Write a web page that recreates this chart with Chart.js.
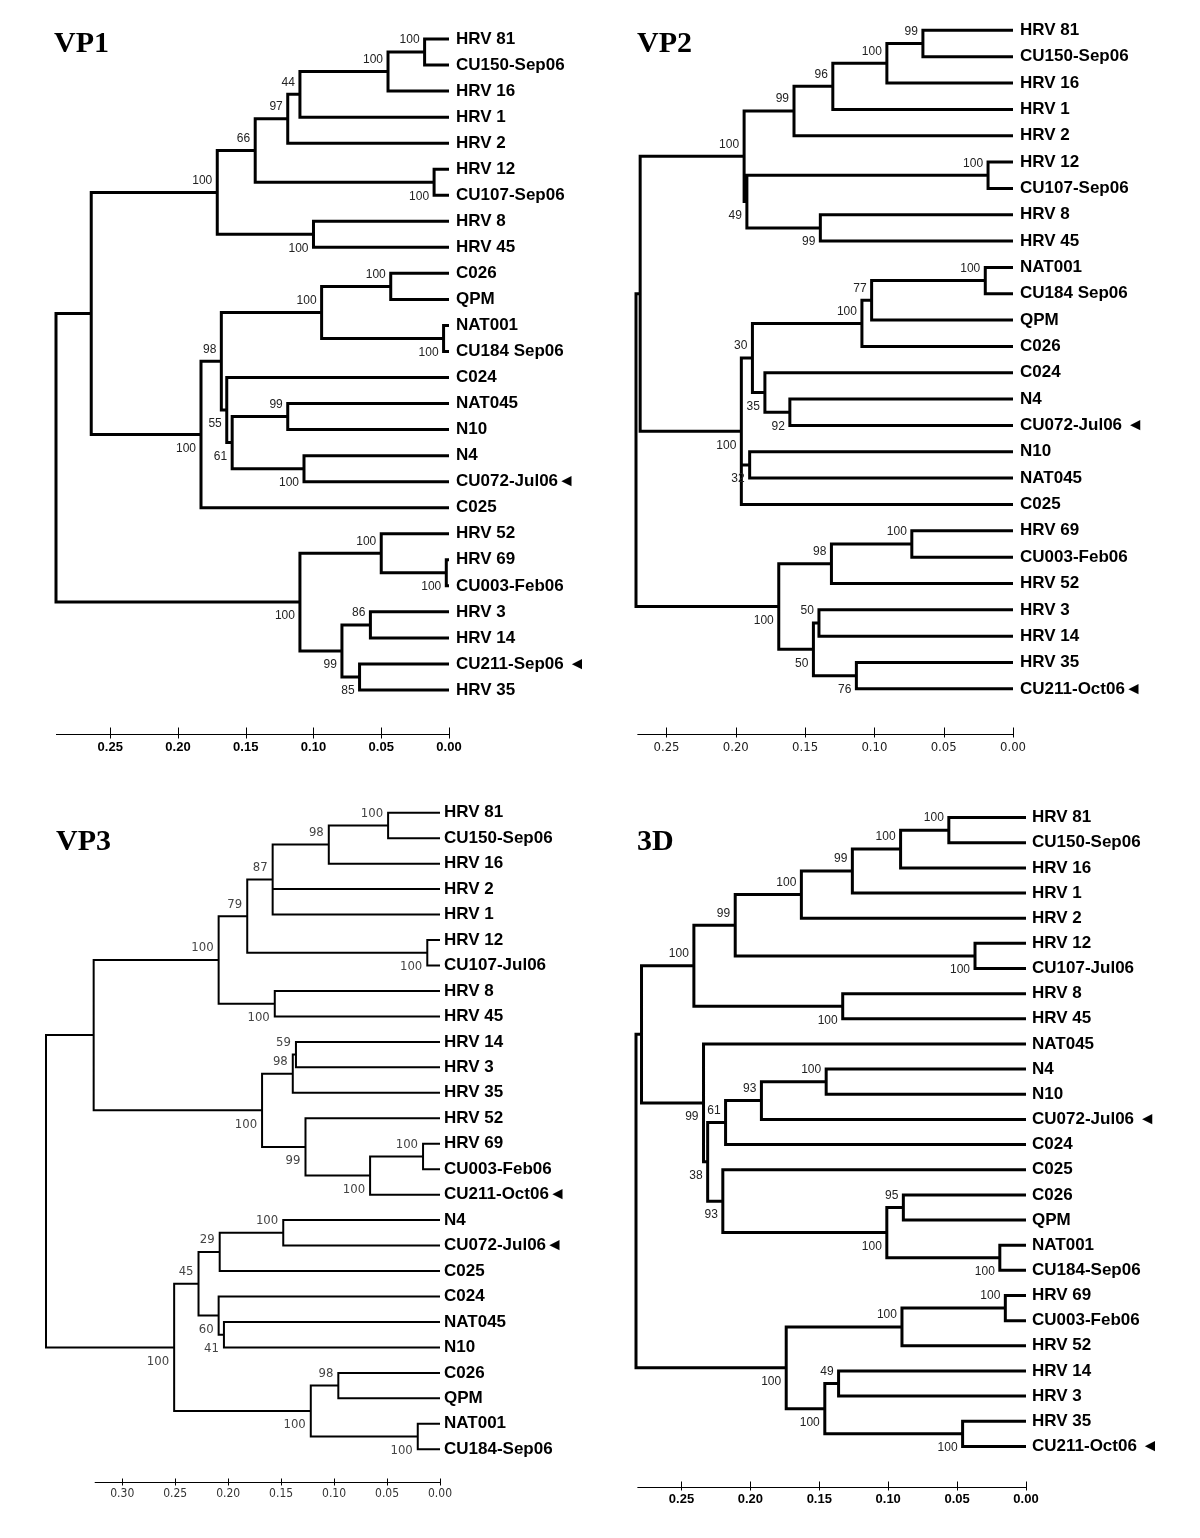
<!DOCTYPE html>
<html>
<head>
<meta charset="utf-8">
<script src="https://cdn.jsdelivr.net/npm/chart.js@4.4.1/dist/chart.umd.min.js"></script>
<style>
body { margin: 0; background: #fff; }
#wrap { position: relative; width: 1200px; height: 1538px; }
canvas { position: absolute; }
</style>
</head>
<body>
<div id="wrap">
  <canvas id="vp1" width="600" height="769" style="left:0;top:0"></canvas>
  <canvas id="vp2" width="600" height="769" style="left:600px;top:0"></canvas>
  <canvas id="vp3" width="600" height="769" style="left:0;top:769px"></canvas>
  <canvas id="d3" width="600" height="769" style="left:600px;top:769px"></canvas>
</div>
<script>
// ---- VP1 ----
var vp1Leaves = ['HRV 81', 'CU150-Sep06', 'HRV 16', 'HRV 1', 'HRV 2', 'HRV 12', 'CU107-Sep06', 'HRV 8', 'HRV 45',
  'C026', 'QPM', 'NAT001', 'CU184 Sep06', 'C024', 'NAT045', 'N10', 'N4', 'CU072-Jul06\u25C4', 'C025',
  'HRV 52', 'HRV 69', 'CU003-Feb06', 'HRV 3', 'HRV 14', 'CU211-Sep06 \u25C4', 'HRV 35'];
// [id, distance, bootstrap, children...] children: leaf index or node id
var vp1Nodes = [
  ['a', 0.018, '100', 0, 1],
  ['b', 0.045, '100', 'a', 2],
  ['c', 0.110, '44', 'b', 3],
  ['d', 0.119, '97', 'c', 4],
  ['e', 0.011, '100', 5, 6],
  ['f', 0.143, '66', 'd', 'e'],
  ['g', 0.100, '100', 7, 8],
  ['h', 0.171, '100', 'f', 'g'],
  ['i', 0.043, '100', 9, 10],
  ['j', 0.004, '100', 11, 12],
  ['k', 0.094, '100', 'i', 'j'],
  ['l', 0.119, '99', 14, 15],
  ['m', 0.107, '100', 16, 17],
  ['n', 0.160, '61', 'l', 'm'],
  ['o', 0.164, '55', 13, 'n'],
  ['p', 0.168, '98', 'k', 'o'],
  ['q', 0.183, '100', 'p', 18],
  ['r', 0.264, '', 'h', 'q'],
  ['s', 0.002, '100', 20, 21],
  ['t', 0.050, '100', 19, 's'],
  ['u', 0.058, '86', 22, 23],
  ['v', 0.066, '85', 24, 25],
  ['w', 0.079, '99', 'u', 'v'],
  ['x', 0.110, '100', 't', 'w'],
  ['root', 0.290, '', 'r', 'x']
];
var vp1Ticks = [0.25, 0.20, 0.15, 0.10, 0.05, 0.00];
var vp1Axis = [0.290, 0];

// ---- VP2 ----
var vp2Leaves = ['HRV 81', 'CU150-Sep06', 'HRV 16', 'HRV 1', 'HRV 2', 'HRV 12', 'CU107-Sep06', 'HRV 8', 'HRV 45',
  'NAT001', 'CU184 Sep06', 'QPM', 'C026', 'C024', 'N4', 'CU072-Jul06 \u25C4', 'N10', 'NAT045', 'C025',
  'HRV 69', 'CU003-Feb06', 'HRV 52', 'HRV 3', 'HRV 14', 'HRV 35', 'CU211-Oct06\u25C4'];
var vp2Nodes = [
  ['a', 0.065, '99', 0, 1],
  ['b', 0.091, '100', 'a', 2],
  ['c', 0.130, '96', 'b', 3],
  ['d', 0.158, '99', 'c', 4],
  ['e', 0.018, '100', 5, 6],
  ['f', 0.139, '99', 7, 8],
  ['g', 0.192, '49', 'e', 'f'],
  ['h', 0.194, '100', 'd', 'g'],
  ['i', 0.020, '100', 9, 10],
  ['j', 0.102, '77', 'i', 11],
  ['k', 0.109, '100', 'j', 12],
  ['l', 0.161, '92', 14, 15],
  ['m', 0.179, '35', 13, 'l'],
  ['n', 0.188, '30', 'k', 'm'],
  ['o', 0.190, '32', 16, 17],
  ['p', 0.196, '100', 'n', 'o', 18],
  ['q', 0.269, '', 'h', 'p'],
  ['r', 0.073, '100', 19, 20],
  ['s', 0.131, '98', 'r', 21],
  ['t', 0.140, '50', 22, 23],
  ['u', 0.113, '76', 24, 25],
  ['v', 0.144, '50', 't', 'u'],
  ['w', 0.169, '100', 's', 'v'],
  ['root', 0.272, '', 'q', 'w']
];
var vp2Ticks = [0.25, 0.20, 0.15, 0.10, 0.05, 0.00];
var vp2Axis = [0.271, 0];

// ---- VP3 ----
var vp3Leaves = ['HRV 81', 'CU150-Sep06', 'HRV 16', 'HRV 2', 'HRV 1', 'HRV 12', 'CU107-Jul06', 'HRV 8', 'HRV 45',
  'HRV 14', 'HRV 3', 'HRV 35', 'HRV 52', 'HRV 69', 'CU003-Feb06', 'CU211-Oct06\u25C4', 'N4', 'CU072-Jul06\u25C4',
  'C025', 'C024', 'NAT045', 'N10', 'C026', 'QPM', 'NAT001', 'CU184-Sep06'];
var vp3Nodes = [
  ['a', 0.049, '100', 0, 1],
  ['b', 0.105, '98', 'a', 2],
  ['c', 0.158, '87', 'b', 3, 4],
  ['d', 0.012, '100', 5, 6],
  ['e', 0.182, '79', 'c', 'd'],
  ['f', 0.156, '100', 7, 8],
  ['g', 0.209, '100', 'e', 'f'],
  ['h', 0.136, '59', 9, 10],
  ['i', 0.139, '98', 'h', 11],
  ['j', 0.016, '100', 13, 14],
  ['k', 0.066, '100', 'j', 15],
  ['l', 0.127, '99', 12, 'k'],
  ['m', 0.168, '100', 'i', 'l'],
  ['n', 0.327, '', 'g', 'm'],
  ['o', 0.148, '100', 16, 17],
  ['p', 0.208, '29', 'o', 18],
  ['q', 0.204, '41', 20, 21],
  ['r', 0.209, '60', 19, 'q'],
  ['s', 0.228, '45', 'p', 'r'],
  ['t', 0.096, '98', 22, 23],
  ['u', 0.021, '100', 24, 25],
  ['v', 0.122, '100', 't', 'u'],
  ['w', 0.251, '100', 's', 'v'],
  ['root', 0.372, '', 'n', 'w']
];
var vp3Ticks = [0.30, 0.25, 0.20, 0.15, 0.10, 0.05, 0.00];
var vp3Axis = [0.326, 0];

// ---- 3D ----
var d3Leaves = ['HRV 81', 'CU150-Sep06', 'HRV 16', 'HRV 1', 'HRV 2', 'HRV 12', 'CU107-Jul06', 'HRV 8', 'HRV 45',
  'NAT045', 'N4', 'N10', 'CU072-Jul06 \u25C4', 'C024', 'C025', 'C026', 'QPM', 'NAT001', 'CU184-Sep06',
  'HRV 69', 'CU003-Feb06', 'HRV 52', 'HRV 14', 'HRV 3', 'HRV 35', 'CU211-Oct06 \u25C4'];
var d3Nodes = [
  ['a', 0.056, '100', 0, 1],
  ['b', 0.091, '100', 'a', 2],
  ['c', 0.126, '99', 'b', 3],
  ['d', 0.163, '100', 'c', 4],
  ['e', 0.037, '100', 5, 6],
  ['f', 0.211, '99', 'd', 'e'],
  ['g', 0.133, '100', 7, 8],
  ['h', 0.241, '100', 'f', 'g'],
  ['i', 0.145, '100', 10, 11],
  ['j', 0.192, '93', 'i', 12],
  ['k', 0.218, '61', 'j', 13],
  ['l', 0.089, '95', 15, 16],
  ['m', 0.019, '100', 17, 18],
  ['n', 0.101, '100', 'l', 'm'],
  ['o', 0.220, '93', 14, 'n'],
  ['p', 0.231, '38', 'k', 'o'],
  ['q', 0.234, '99', 9, 'p'],
  ['r', 0.279, '', 'h', 'q'],
  ['s', 0.015, '100', 19, 20],
  ['t', 0.090, '100', 's', 21],
  ['u', 0.136, '49', 22, 23],
  ['v', 0.046, '100', 24, 25],
  ['w', 0.146, '100', 'u', 'v'],
  ['x', 0.174, '100', 't', 'w'],
  ['root', 0.283, '', 'r', 'x']
];
var d3Ticks = [0.25, 0.20, 0.15, 0.10, 0.05, 0.00];
var d3Axis = [0.282, 0];

var SANS = '"Liberation Sans", Arial, sans-serif';
var NARROW = '"Liberation Sans Narrow", "DejaVu Sans Condensed", "Liberation Sans", sans-serif';

var panels = [
  { canvas: 'vp1', title: 'VP1', leaves: vp1Leaves, nodes: vp1Nodes, ticks: vp1Ticks, axis: vp1Axis,
    pad: { left: 56, top: 26, bottom: 66, right: 0 }, labelWidth: 151, labelPad: 7, lineWidth: 3,
    axisY: 734, tickUp: 7, tickDown: 4, tickDy: 13, tickFont: 'bold 13px ' + SANS, tickColor: '#000',
    bootFont: '12px ' + SANS, bootColor: '#222', titleX: 54, titleY: 52 },
  { canvas: 'vp2', title: 'VP2', leaves: vp2Leaves, nodes: vp2Nodes, ticks: vp2Ticks, axis: vp2Axis,
    pad: { left: 36, top: 15, bottom: 67, right: 0 }, labelWidth: 187, labelPad: 7, lineWidth: 3,
    axisY: 734, tickUp: 7, tickDown: 3, tickDy: 13, tickFont: '13px ' + NARROW, tickColor: '#222',
    bootFont: '12px ' + SANS, bootColor: '#222', titleX: 37, titleY: 52 },
  { canvas: 'vp3', title: 'VP3', leaves: vp3Leaves, nodes: vp3Nodes, ticks: vp3Ticks, axis: vp3Axis,
    pad: { left: 46, top: 31, bottom: 76, right: 0 }, labelWidth: 160, labelPad: 4, lineWidth: 2,
    axisY: 713, tickUp: 4, tickDown: 3, tickDy: 11, tickFont: '12px ' + NARROW, tickColor: '#333',
    bootFont: '13px ' + NARROW, bootColor: '#444', titleX: 56, titleY: 81 },
  { canvas: 'd3', title: '3D', leaves: d3Leaves, nodes: d3Nodes, ticks: d3Ticks, axis: d3Axis,
    pad: { left: 36, top: 36, bottom: 79, right: 0 }, labelWidth: 174, labelPad: 6, lineWidth: 3,
    axisY: 718, tickUp: 6, tickDown: 3, tickDy: 12, tickFont: 'bold 13px ' + SANS, tickColor: '#000',
    bootFont: '12px ' + SANS, bootColor: '#222', titleX: 37, titleY: 81 }
];

// place every node: y = middle of first and last child, x = its distance
function buildTree(leaves, nodes) {
  var pos = {};
  function get(k) { return typeof k === 'number' ? pos['#' + k] : pos[k]; }
  leaves.forEach(function (name, i) { pos['#' + i] = { h: 0, y: i }; });
  nodes.forEach(function (n) {
    var kids = n.slice(3).map(get);
    kids.forEach(function (c, i) { c.upper = (i === 0); });
    pos[n[0]] = { h: n[1], y: (kids[0].y + kids[kids.length - 1].y) / 2, boot: n[2], kids: kids };
  });
  return nodes.map(function (n) { return pos[n[0]]; });
}

// elbow branches as one broken line
function branchPoints(tree) {
  var pts = [];
  var gap = { x: null, y: null };
  tree.forEach(function (n) {
    var k = n.kids, a = k[0], b = k[k.length - 1];
    pts.push({ x: a.h, y: a.y }, { x: n.h, y: a.y }, { x: n.h, y: b.y }, { x: b.h, y: b.y }, gap);
    for (var i = 1; i < k.length - 1; i++) {
      pts.push({ x: n.h, y: k[i].y }, { x: k[i].h, y: k[i].y }, gap);
    }
  });
  return pts;
}

function treeExtras(p, tree) {
  return {
    id: 'treeExtras',
    afterDatasetsDraw: function (chart) {
      var ctx = chart.ctx, xs = chart.scales.x, ys = chart.scales.y;
      ctx.save();
      // bootstrap values
      ctx.font = p.bootFont;
      ctx.fillStyle = p.bootColor;
      ctx.textAlign = 'right';
      ctx.textBaseline = 'middle';
      tree.forEach(function (n) {
        if (!n.boot) return;
        var x = xs.getPixelForValue(n.h) - 5;
        var y = ys.getPixelForValue(n.y) + (n.upper ? -12 : 14);
        ctx.fillText(n.boot, x, y);
      });
      // distance scale
      var ay = p.axisY + 0.5;
      ctx.strokeStyle = '#000';
      ctx.lineWidth = 1;
      ctx.beginPath();
      ctx.moveTo(xs.getPixelForValue(p.axis[0]), ay);
      ctx.lineTo(xs.getPixelForValue(p.axis[1]), ay);
      p.ticks.forEach(function (t) {
        var x = Math.round(xs.getPixelForValue(t)) + 0.5;
        ctx.moveTo(x, ay - p.tickUp);
        ctx.lineTo(x, ay + p.tickDown);
      });
      ctx.stroke();
      ctx.font = p.tickFont;
      ctx.fillStyle = p.tickColor;
      ctx.textAlign = 'center';
      ctx.textBaseline = 'middle';
      p.ticks.forEach(function (t) {
        ctx.fillText(t.toFixed(2), xs.getPixelForValue(t), ay + p.tickDy);
      });
      // panel title
      ctx.font = 'bold 30px "Liberation Serif", "Times New Roman", serif';
      ctx.fillStyle = '#000';
      ctx.textAlign = 'left';
      ctx.textBaseline = 'alphabetic';
      ctx.fillText(p.title, p.titleX, p.titleY);
      ctx.restore();
    }
  };
}

panels.forEach(function (p) {
  var tree = buildTree(p.leaves, p.nodes);
  var rootH = p.nodes[p.nodes.length - 1][1];
  new Chart(document.getElementById(p.canvas), {
    type: 'scatter',
    data: {
      datasets: [{
        data: branchPoints(tree),
        showLine: true,
        spanGaps: false,
        borderColor: '#000',
        borderWidth: p.lineWidth,
        borderCapStyle: 'butt',
        borderJoinStyle: 'miter',
        pointRadius: 0,
        pointHoverRadius: 0,
        clip: false
      }]
    },
    options: {
      responsive: false,
      animation: false,
      events: [],
      layout: { padding: p.pad },
      plugins: { legend: { display: false }, tooltip: { enabled: false } },
      scales: {
        x: { type: 'linear', min: 0, max: rootH, reverse: true, display: false },
        y: {
          type: 'linear', position: 'right', reverse: true,
          min: -0.5, max: p.leaves.length - 0.5,
          grid: { display: false, drawTicks: false },
          border: { display: false },
          afterBuildTicks: function (s) {
            s.ticks = p.leaves.map(function (_, i) { return { value: i }; });
          },
          afterFit: function (s) { s.width = p.labelWidth; },
          ticks: {
            autoSkip: false,
            padding: p.labelPad,
            color: '#000',
            font: { family: SANS, size: 17, weight: 'bold' },
            callback: function (v) { return p.leaves[v]; }
          }
        }
      }
    },
    plugins: [treeExtras(p, tree)]
  });
});
</script>
</body>
</html>
